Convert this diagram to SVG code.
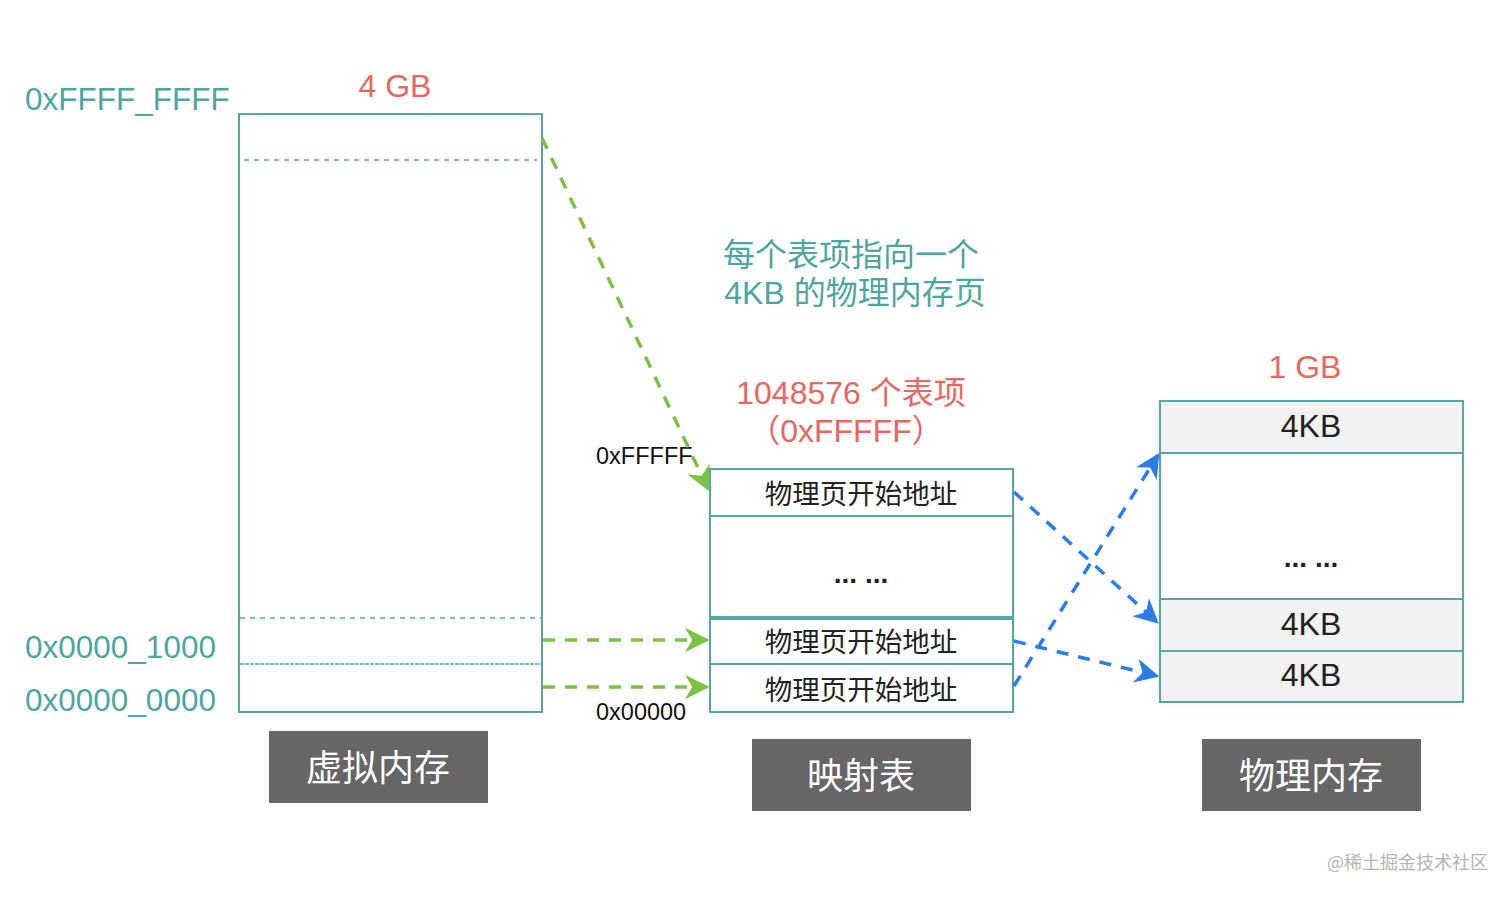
<svg xmlns="http://www.w3.org/2000/svg" width="1512" height="898" viewBox="0 0 1512 898">
<style>
.box{fill:#fff;stroke:#52a9a4;stroke-width:2}
.gray{fill:#f2f2f2;stroke:#52a9a4;stroke-width:2}
.dash{stroke:#52a9a4;stroke-width:1.5;stroke-dasharray:5 5}
.teal{font-family:"Liberation Sans","Noto Sans CJK SC",sans-serif;fill:#4ea6a0;font-size:31.5px}
.note{font-family:"Liberation Sans","Noto Sans CJK SC",sans-serif;fill:#4ea6a0;font-size:32px;text-anchor:middle}
.red{font-family:"Liberation Sans","Noto Sans CJK SC",sans-serif;fill:#e8675f;font-size:32px;text-anchor:middle}
.cell{font-family:"Liberation Sans","Noto Sans CJK SC",sans-serif;fill:#222;font-size:27.5px;text-anchor:middle}
.dots{font-family:"Liberation Sans",sans-serif;fill:#222;font-size:28px;font-weight:bold;text-anchor:middle}
.kb{font-family:"Liberation Sans","Noto Sans CJK SC",sans-serif;fill:#222;font-size:32px;text-anchor:middle}
.addr{font-family:"Liberation Sans",sans-serif;fill:#111;font-size:23.5px}
.lbl{fill:#666}
.lbltxt{font-family:"Noto Sans CJK SC",sans-serif;fill:#fff;font-size:36px;text-anchor:middle}
.g{stroke:#7cc242;stroke-width:3.5;stroke-dasharray:12 10;fill:none}
.b{stroke:#2b7de9;stroke-width:3.5;stroke-dasharray:12 10;fill:none}
</style>
<defs>
<marker id="ag" viewBox="0 0 10 10" refX="9" refY="5" markerWidth="7" markerHeight="7" markerUnits="strokeWidth" orient="auto"><path d="M0,0 L10,5 L0,10 L3,5 z" fill="#7cc242"/></marker>
<marker id="ab" viewBox="0 0 10 10" refX="9" refY="5" markerWidth="7" markerHeight="7" markerUnits="strokeWidth" orient="auto"><path d="M0,0 L10,5 L0,10 L3,5 z" fill="#2b7de9"/></marker>
</defs>

<g id="virtual-memory">
<rect class="box" x="239" y="114" width="303" height="598"/>
<line class="dash" x1="244" y1="160" x2="537" y2="160"/>
<line class="dash" x1="240" y1="618" x2="541" y2="618"/>
<line stroke="#52a9a4" stroke-width="1.5" stroke-dasharray="4 1" x1="240" y1="664" x2="541" y2="664"/>
<text class="red" x="395" y="97">4 GB</text>
<text class="teal" x="25" y="110">0xFFFF_FFFF</text>
<text class="teal" x="25" y="658">0x0000_1000</text>
<text class="teal" x="25" y="711">0x0000_0000</text>
</g>

<g id="mapping-table">
<rect class="box" x="710" y="469" width="303" height="243"/>
<line stroke="#52a9a4" stroke-width="2" x1="710" y1="516" x2="1013" y2="516"/>
<line stroke="#52a9a4" stroke-width="2" x1="710" y1="617" x2="1013" y2="617"/>
<line stroke="#52a9a4" stroke-width="2" x1="710" y1="619" x2="1013" y2="619"/>
<line stroke="#52a9a4" stroke-width="2" x1="710" y1="664" x2="1013" y2="664"/>
<text class="cell" x="861" y="504">物理页开始地址</text>
<text class="dots" x="861" y="583">... ...</text>
<text class="cell" x="861" y="652">物理页开始地址</text>
<text class="cell" x="861" y="700">物理页开始地址</text>
<text class="red" x="851" y="404">1048576 个表项</text>
<text class="red" x="846" y="442">（0xFFFFF）</text>
<text class="addr" x="596" y="464">0xFFFFF</text>
<text class="addr" x="596" y="720">0x00000</text>
</g>

<g id="note">
<text class="note" x="851" y="266">每个表项指向一个</text>
<text class="note" x="855" y="304">4KB 的物理内存页</text>
</g>

<g id="physical-memory">
<rect class="box" x="1160" y="401" width="303" height="301"/>
<rect class="gray" x="1160" y="401" width="303" height="52"/>
<rect class="gray" x="1160" y="599" width="303" height="52"/>
<rect class="gray" x="1160" y="651" width="303" height="51"/>
<text class="kb" x="1311" y="437">4KB</text>
<text class="dots" x="1311" y="567">... ...</text>
<text class="kb" x="1311" y="635">4KB</text>
<text class="kb" x="1311" y="686">4KB</text>
<text class="red" x="1305" y="378">1 GB</text>
</g>

<g id="label-virtual"><rect class="lbl" x="269" y="731" width="219" height="72"/><text class="lbltxt" x="378" y="781">虚拟内存</text></g>
<g id="label-table"><rect class="lbl" x="752" y="739" width="219" height="72"/><text class="lbltxt" x="861" y="789">映射表</text></g>
<g id="label-physical"><rect class="lbl" x="1202" y="739" width="219" height="72"/><text class="lbltxt" x="1311" y="789">物理内存</text></g>

<g id="connectors">
<line class="g" x1="542" y1="138" x2="708" y2="489" marker-end="url(#ag)"/>
<line class="g" x1="543" y1="640" x2="707" y2="640" marker-end="url(#ag)"/>
<line class="g" x1="543" y1="687" x2="707" y2="687" marker-end="url(#ag)"/>
<line class="b" x1="1014" y1="492" x2="1157" y2="622" marker-end="url(#ab)"/>
<line class="b" x1="1014" y1="641" x2="1157" y2="676" marker-end="url(#ab)"/>
<line class="b" x1="1014" y1="686" x2="1158" y2="455" marker-end="url(#ab)"/>
</g>

<text x="1488" y="869" text-anchor="end" font-family="Noto Sans CJK SC, sans-serif" font-size="18" fill="#b5b5b5">@稀土掘金技术社区</text>
</svg>
